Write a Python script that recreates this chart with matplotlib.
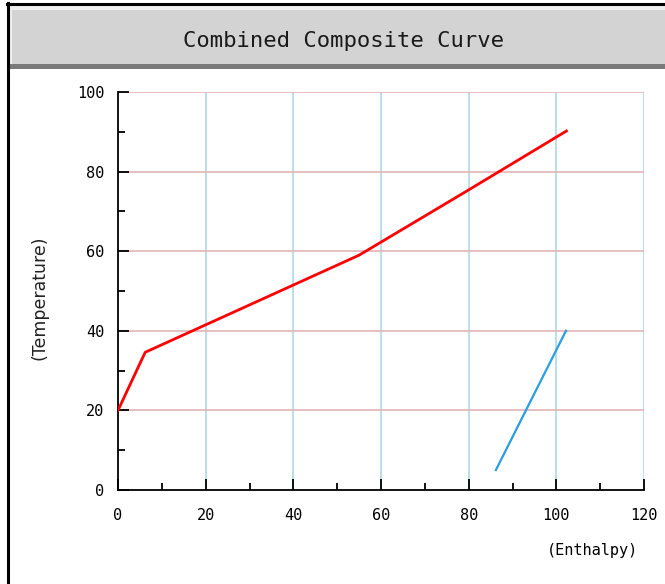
import matplotlib as mpl
mpl.use('Agg')
import matplotlib.pyplot as plt
from matplotlib.patches import Rectangle
from matplotlib.lines import Line2D
from matplotlib.ticker import MultipleLocator

# hot / cold composite curves (enthalpy, temperature)
hot_h = [0, 6.2, 55, 80, 102.3]
hot_t = [20, 34.6, 59, 75.4, 90.2]
cold_h = [86.2, 102.2]
cold_t = [5.0, 40.0]

title = "Combined Composite Curve"
xlabel = "(Enthalpy)"
ylabel = "(Temperature)"

fig = plt.figure(figsize=(6.65, 5.84), dpi=100)
W, H = 665.0, 584.0

# frame and title bar
fig.add_artist(Rectangle((10 / W, 1 - 66 / H), 1 - 10 / W, 60 / H,
                         transform=fig.transFigure, facecolor='#eeeeee', edgecolor='none'))
fig.add_artist(Rectangle((12 / W, 1 - 64 / H), 1 - 12 / W, 54 / H,
                         transform=fig.transFigure, facecolor='#d3d3d3', edgecolor='none'))
fig.add_artist(Rectangle((10 / W, 1 - 69 / H), 1 - 10 / W, 5 / H,
                         transform=fig.transFigure, facecolor='#7a7a7a', edgecolor='none'))
fig.add_artist(Line2D([7 / W, 1], [1 - 4 / H, 1 - 4 / H], transform=fig.transFigure,
                      color='black', lw=2.2))
fig.add_artist(Line2D([8 / W, 8 / W], [0, 1 - 3 / H], transform=fig.transFigure,
                      color='black', lw=2.2))
fig.text(343 / W, 1 - 41 / H, title, ha='center', va='center',
         family='DejaVu Sans Mono', fontsize=16, color='#1a1a1a')

ax = fig.add_axes([118 / W, 94 / H, 526 / W, 398 / H])
ax.set_xlim(0, 120)
ax.set_ylim(0, 100)

for v in range(20, 121, 20):
  ax.axvline(v, color='#add8e6', lw=1.2, zorder=1)
for v in range(20, 101, 20):
  ax.axhline(v, color='#e3b5b5', lw=1.2, zorder=1)

ax.plot(hot_h, hot_t, color='#ff0000', lw=2.0, zorder=3)
ax.plot(cold_h, cold_t, color='#2a9ee0', lw=1.6, zorder=3)

for s in ['top', 'right']:
  ax.spines[s].set_visible(False)
for s in ['left', 'bottom']:
  ax.spines[s].set_linewidth(1.3)

ax.xaxis.set_major_locator(MultipleLocator(20))
ax.xaxis.set_minor_locator(MultipleLocator(10))
ax.yaxis.set_major_locator(MultipleLocator(20))
ax.yaxis.set_minor_locator(MultipleLocator(10))
ax.tick_params(which='major', direction='in', length=8, width=1.3, pad=10)
ax.tick_params(axis='x', which='major', pad=13)
ax.tick_params(which='minor', direction='in', length=5, width=1.3)
for lbl in ax.get_xticklabels() + ax.get_yticklabels():
  lbl.set_family('DejaVu Sans Mono')
  lbl.set_fontsize(11)

fig.text(592 / W, 1 - 550 / H, xlabel, ha='center', va='center',
         family='DejaVu Sans Mono', fontsize=11)
fig.text(40 / W, 1 - 298 / H, ylabel, ha='center', va='center', rotation=90,
         family='DejaVu Sans', fontsize=12.5, color='#222222')

fig.savefig("out.png", dpi=100)
